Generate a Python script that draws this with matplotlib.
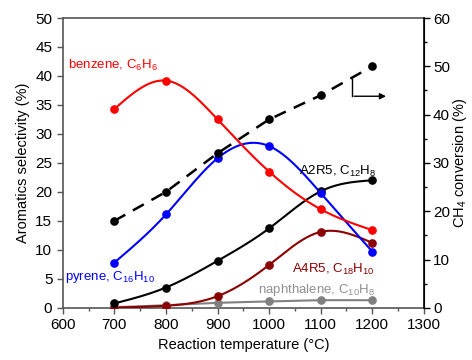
import numpy as np
import matplotlib
matplotlib.use("Agg")
import matplotlib.pyplot as plt
from matplotlib.ticker import MultipleLocator

plt.rcParams['font.family'] = ['Liberation Sans', 'DejaVu Sans']
plt.rcParams['mathtext.fontset'] = 'custom'
plt.rcParams['mathtext.rm'] = 'Liberation Sans'
plt.rcParams['mathtext.it'] = 'Liberation Sans'

# data
temps = [700, 800, 900, 1000, 1100, 1200]
benzene = [34.3, 39.2, 32.5, 23.5, 17.0, 13.4]
pyrene = [7.8, 16.1, 25.8, 27.9, 19.8, 9.7]
a2r5 = [0.75, 3.5, 8.1, 13.7, 20.1, 22.0]
a4r5 = [0.05, 0.35, 2.0, 7.4, 13.1, 11.2]
naphthalene = [0.1, 0.45, 0.85, 1.1, 1.3, 1.3]
ch4_conv = [18.0, 24.0, 32.0, 39.0, 44.0, 50.0]


def smooth(x, y, n=200):
    # natural cubic spline through the points, only for drawing the line
    x = np.asarray(x, float)
    y = np.asarray(y, float)
    h = np.diff(x)
    m = len(x)
    A = np.zeros((m, m))
    b = np.zeros(m)
    A[0, 0] = A[-1, -1] = 1
    for i in range(1, m - 1):
        A[i, i - 1] = h[i - 1]
        A[i, i] = 2 * (h[i - 1] + h[i])
        A[i, i + 1] = h[i]
        b[i] = 6 * ((y[i + 1] - y[i]) / h[i] - (y[i] - y[i - 1]) / h[i - 1])
    M = np.linalg.solve(A, b)
    xs = np.linspace(x[0], x[-1], n)
    k = np.clip(np.searchsorted(x, xs) - 1, 0, m - 2)
    t0 = x[k + 1] - xs
    t1 = xs - x[k]
    hk = h[k]
    ys = (M[k] * t0**3 + M[k + 1] * t1**3) / (6 * hk) \
        + (y[k] / hk - M[k] * hk / 6) * t0 + (y[k + 1] / hk - M[k + 1] * hk / 6) * t1
    return xs, ys


fig = plt.figure(figsize=(4.72, 3.6), dpi=100)
ax = fig.add_axes([0.133, 0.145, 0.765, 0.805])

series = [
    (naphthalene, '#808080'),
    (a4r5, '#8B0000'),
    (a2r5, 'black'),
    (pyrene, '#0000FF'),
    (benzene, '#FF0000'),
]
for vals, col in series:
    xs, ys = smooth(temps, vals)
    ax.plot(xs, ys, color=col, lw=1.5, zorder=3)
    ax.plot(temps, vals, 'o', color=col, ms=5.2, zorder=4)

ax.set_xlim(600, 1300)
ax.set_ylim(0, 50)
ax.xaxis.set_major_locator(MultipleLocator(100))
ax.xaxis.set_minor_locator(MultipleLocator(50))
ax.yaxis.set_major_locator(MultipleLocator(5))
ax.set_xlabel('Reaction temperature (°C)', fontsize=10.5)
ax.set_ylabel('Aromatics selectivity (%)', fontsize=10.5, labelpad=4)
ax.tick_params(direction='out', labelsize=11, length=4, width=1, color='#555555')
ax.tick_params(which='minor', direction='out', length=2.5, width=1, color='#555555')
for s in ['left', 'bottom', 'top']:
    ax.spines[s].set_color('#555555')
    ax.spines[s].set_linewidth(1.2)

ax2 = ax.twinx()
ax2.plot(temps, ch4_conv, '--o', color='black', lw=1.8, ms=5.2,
         dashes=(5, 3.5), zorder=5)
ax2.set_ylim(0, 60)
ax2.yaxis.set_major_locator(MultipleLocator(10))
ax2.yaxis.set_minor_locator(MultipleLocator(5))
ax2.set_ylabel('CH$_4$ conversion (%)', fontsize=10.5, labelpad=1)
ax2.tick_params(direction='out', labelsize=11, length=4, width=1, pad=2.5)
ax2.tick_params(which='minor', direction='out', length=2.5, width=1)
ax2.spines['right'].set_linewidth(1.2)
ax2.spines['right'].set_color('black')
for s in ['left', 'bottom', 'top']:
    ax2.spines[s].set_visible(False)

# arrow pointing to the right axis
ax2.plot([1160, 1160], [47.3, 43.8], color='black', lw=1)
ax2.annotate('', xy=(1232, 43.8), xytext=(1159.5, 43.8),
             arrowprops=dict(arrowstyle='-|>', color='black', lw=1,
                             mutation_scale=9))

ax.text(610, 41.3, 'benzene, C$_6$H$_6$', color='#FF0000', fontsize=9.5)
ax.text(605, 4.8, 'pyrene, C$_{16}$H$_{10}$', color='#0000FF', fontsize=9.5)
ax.text(1208, 23.0, 'A2R5, C$_{12}$H$_8$', color='black', fontsize=9.5, ha='right')
ax.text(1204, 6.0, 'A4R5, C$_{18}$H$_{10}$', color='#8B0000', fontsize=9.5, ha='right')
ax.text(1205, 2.5, 'naphthalene, C$_{10}$H$_8$', color='#909090', fontsize=9.5, ha='right')

fig.savefig('out.png', dpi=100)
